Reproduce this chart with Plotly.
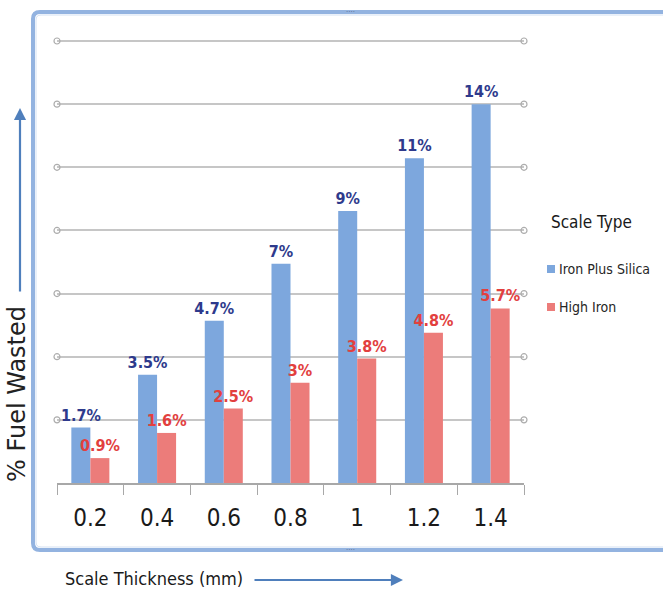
import plotly.graph_objects as go

# ---------------- data ----------------
categories = ["0.2", "0.4", "0.6", "0.8", "1", "1.2", "1.4"]
iron_plus_silica = [2.05, 4.0, 6.0, 8.1, 10.05, 12.0, 14.0]
high_iron = [0.92, 1.85, 2.75, 3.7, 4.6, 5.55, 6.45]
iron_plus_silica_labels = ["1.7%", "3.5%", "4.7%", "7%", "9%", "11%", "14%"]
high_iron_labels = ["0.9%", "1.6%", "2.5%", "3%", "3.8%", "4.8%", "5.7%"]
series_names = ["Iron Plus Silica", "High Iron"]
legend_title = "Scale Type"
y_title = "% Fuel Wasted"
x_title = "Scale Thickness (mm)"

# ---------------- layout geometry ----------------
W, H = 663, 589
PL, PR, PT, PB = 57, 524, 36, 483          # plot area in pixels
GRID_STEP = 14 / 6
N_GRID = 7
PX_PER_UNIT = (483 - 41) / (GRID_STEP * N_GRID)   # top gridline sits at y=41
Y_TOP = (PB - PT) / PX_PER_UNIT

def px(x):
    return (x - PL) / (PR - PL)

def py(y):
    return (PB - y) / (PB - PT)

NARROW = "DejaVu Sans Condensed, Liberation Sans Narrow, Roboto, sans-serif"
BLUE = "#7DA7DD"
RED = "#EC7C7A"
BLUE_TXT = "#2E3A8C"
RED_TXT = "#E2403E"
GRID = "#C6C6C6"

def nfont(size, color, weight="normal"):
    return dict(family=NARROW, size=size, color=color, weight=weight)

fig = go.Figure()
fig.add_trace(go.Bar(
    x=categories, y=iron_plus_silica, name=series_names[0],
    marker=dict(color=BLUE, line=dict(width=0)),
    text=iron_plus_silica_labels, textposition="outside", constraintext="none",
    textfont=nfont(16, BLUE_TXT, "bold"),
    cliponaxis=False, showlegend=False,
))
fig.add_trace(go.Bar(
    x=categories, y=high_iron, name=series_names[1],
    marker=dict(color=RED, line=dict(width=0)),
    text=high_iron_labels, textposition="outside", constraintext="none",
    textfont=nfont(16, RED_TXT, "bold"),
    cliponaxis=False, showlegend=False,
))

# circle ends of gridlines
grid_vals = [GRID_STEP * k for k in range(1, N_GRID + 1)]
fig.add_trace(go.Scatter(
    x=[0] * len(grid_vals) + [1] * len(grid_vals), y=grid_vals + grid_vals,
    xaxis="x2", mode="markers", cliponaxis=False, showlegend=False, hoverinfo="skip",
    marker=dict(symbol="circle-open", size=6, color="#ADADAD", line=dict(width=1.2)),
))

shapes = []
def rounded_path(x0, y0, x1, y1, r):
    rx = r / (PR - PL)
    ry = r / (PB - PT)
    X0, X1 = px(x0), px(x1)
    Y0, Y1 = py(y0), py(y1)
    return (f"M {X0+rx},{Y0} L {X1-rx},{Y0} Q {X1},{Y0} {X1},{Y0-ry} "
            f"L {X1},{Y1+ry} Q {X1},{Y1} {X1-rx},{Y1} L {X0+rx},{Y1} "
            f"Q {X0},{Y1} {X0},{Y1+ry} L {X0},{Y0-ry} Q {X0},{Y0} {X0+rx},{Y0} Z")

shapes.append(dict(type="path", xref="paper", yref="paper",
                   path=rounded_path(33, 12, 672, 550, 7),
                   line=dict(color="#93B3E0", width=4), fillcolor="rgba(0,0,0,0)", layer="below"))
shapes.append(dict(type="path", xref="paper", yref="paper",
                   path=rounded_path(36, 15, 669, 547, 5),
                   line=dict(color="#D4E1F3", width=1), fillcolor="rgba(0,0,0,0)", layer="below"))

for (cy, col) in [(269, BLUE), (307, RED)]:
    shapes.append(dict(type="rect", xref="paper", yref="paper",
                       x0=px(547), x1=px(555), y0=py(cy + 4), y1=py(cy - 4),
                       fillcolor=col, line=dict(width=0)))

annotations = []
annotations.append(dict(text=legend_title, xref="paper", yref="paper", x=px(549), y=py(222),
                        xanchor="left", yanchor="middle", showarrow=False,
                        font=nfont(17, "#1A1A1A")))
for name, cy in zip(series_names, [269, 307]):
    annotations.append(dict(text=name, xref="paper", yref="paper", x=px(557), y=py(cy),
                            xanchor="left", yanchor="middle", showarrow=False,
                            font=nfont(14, "#262626")))

annotations.append(dict(text=y_title, xref="paper", yref="paper", x=px(17), y=py(394),
                        xanchor="center", yanchor="middle", textangle=-90, showarrow=False,
                        font=dict(family="DejaVu Sans, Verdana, sans-serif", size=24, color="#222222")))
annotations.append(dict(text="", xref="paper", yref="paper", x=px(20), y=py(108),
                        ax=0, ay=185, showarrow=True, arrowhead=2, arrowsize=1.1,
                        arrowwidth=2.2, arrowcolor="#4F7FBC"))
annotations.append(dict(text=x_title, xref="paper", yref="paper", x=px(63), y=py(578),
                        xanchor="left", yanchor="middle", showarrow=False,
                        font=nfont(18, "#1A1A1A")))
annotations.append(dict(text="", xref="paper", yref="paper", x=px(403), y=py(580),
                        ax=-150, ay=0, showarrow=True, arrowhead=2, arrowsize=1.1,
                        arrowwidth=2.2, arrowcolor="#4F7FBC"))

for (hx, hy) in [(350, 12), (350, 550)]:
    annotations.append(dict(text="····", xref="paper", yref="paper", x=px(hx), y=py(hy),
                            xanchor="center", yanchor="middle", showarrow=False,
                            font=dict(family="DejaVu Sans", size=7, color="#5A6A8A")))

fig.update_layout(
    width=W, height=H,
    margin=dict(l=PL, r=W - PR, t=PT, b=H - PB),
    paper_bgcolor="white", plot_bgcolor="white",
    barmode="group", bargap=0.43, bargroupgap=0,
    showlegend=False,
    shapes=shapes, annotations=annotations,
    xaxis=dict(type="category", tickson="boundaries", ticks="outside", ticklen=10,
               tickcolor="#A8A8A8", tickwidth=1.2, showline=True, linecolor="#A8A8A8",
               linewidth=1.5, showgrid=False, ticklabelstandoff=12,
               tickfont=nfont(24, "#1A1A1A")),
    xaxis2=dict(overlaying="x", range=[0, 1], visible=False, anchor="y"),
    yaxis=dict(range=[0, Y_TOP], dtick=GRID_STEP, tick0=0,
               showticklabels=False, ticks="", showline=False, zeroline=False,
               showgrid=True, gridcolor=GRID, gridwidth=1.5),
)

fig.write_html("out.html", config={"displayModeBar": False},
               post_script="document.body.style.margin='0';document.body.style.padding='0';")
